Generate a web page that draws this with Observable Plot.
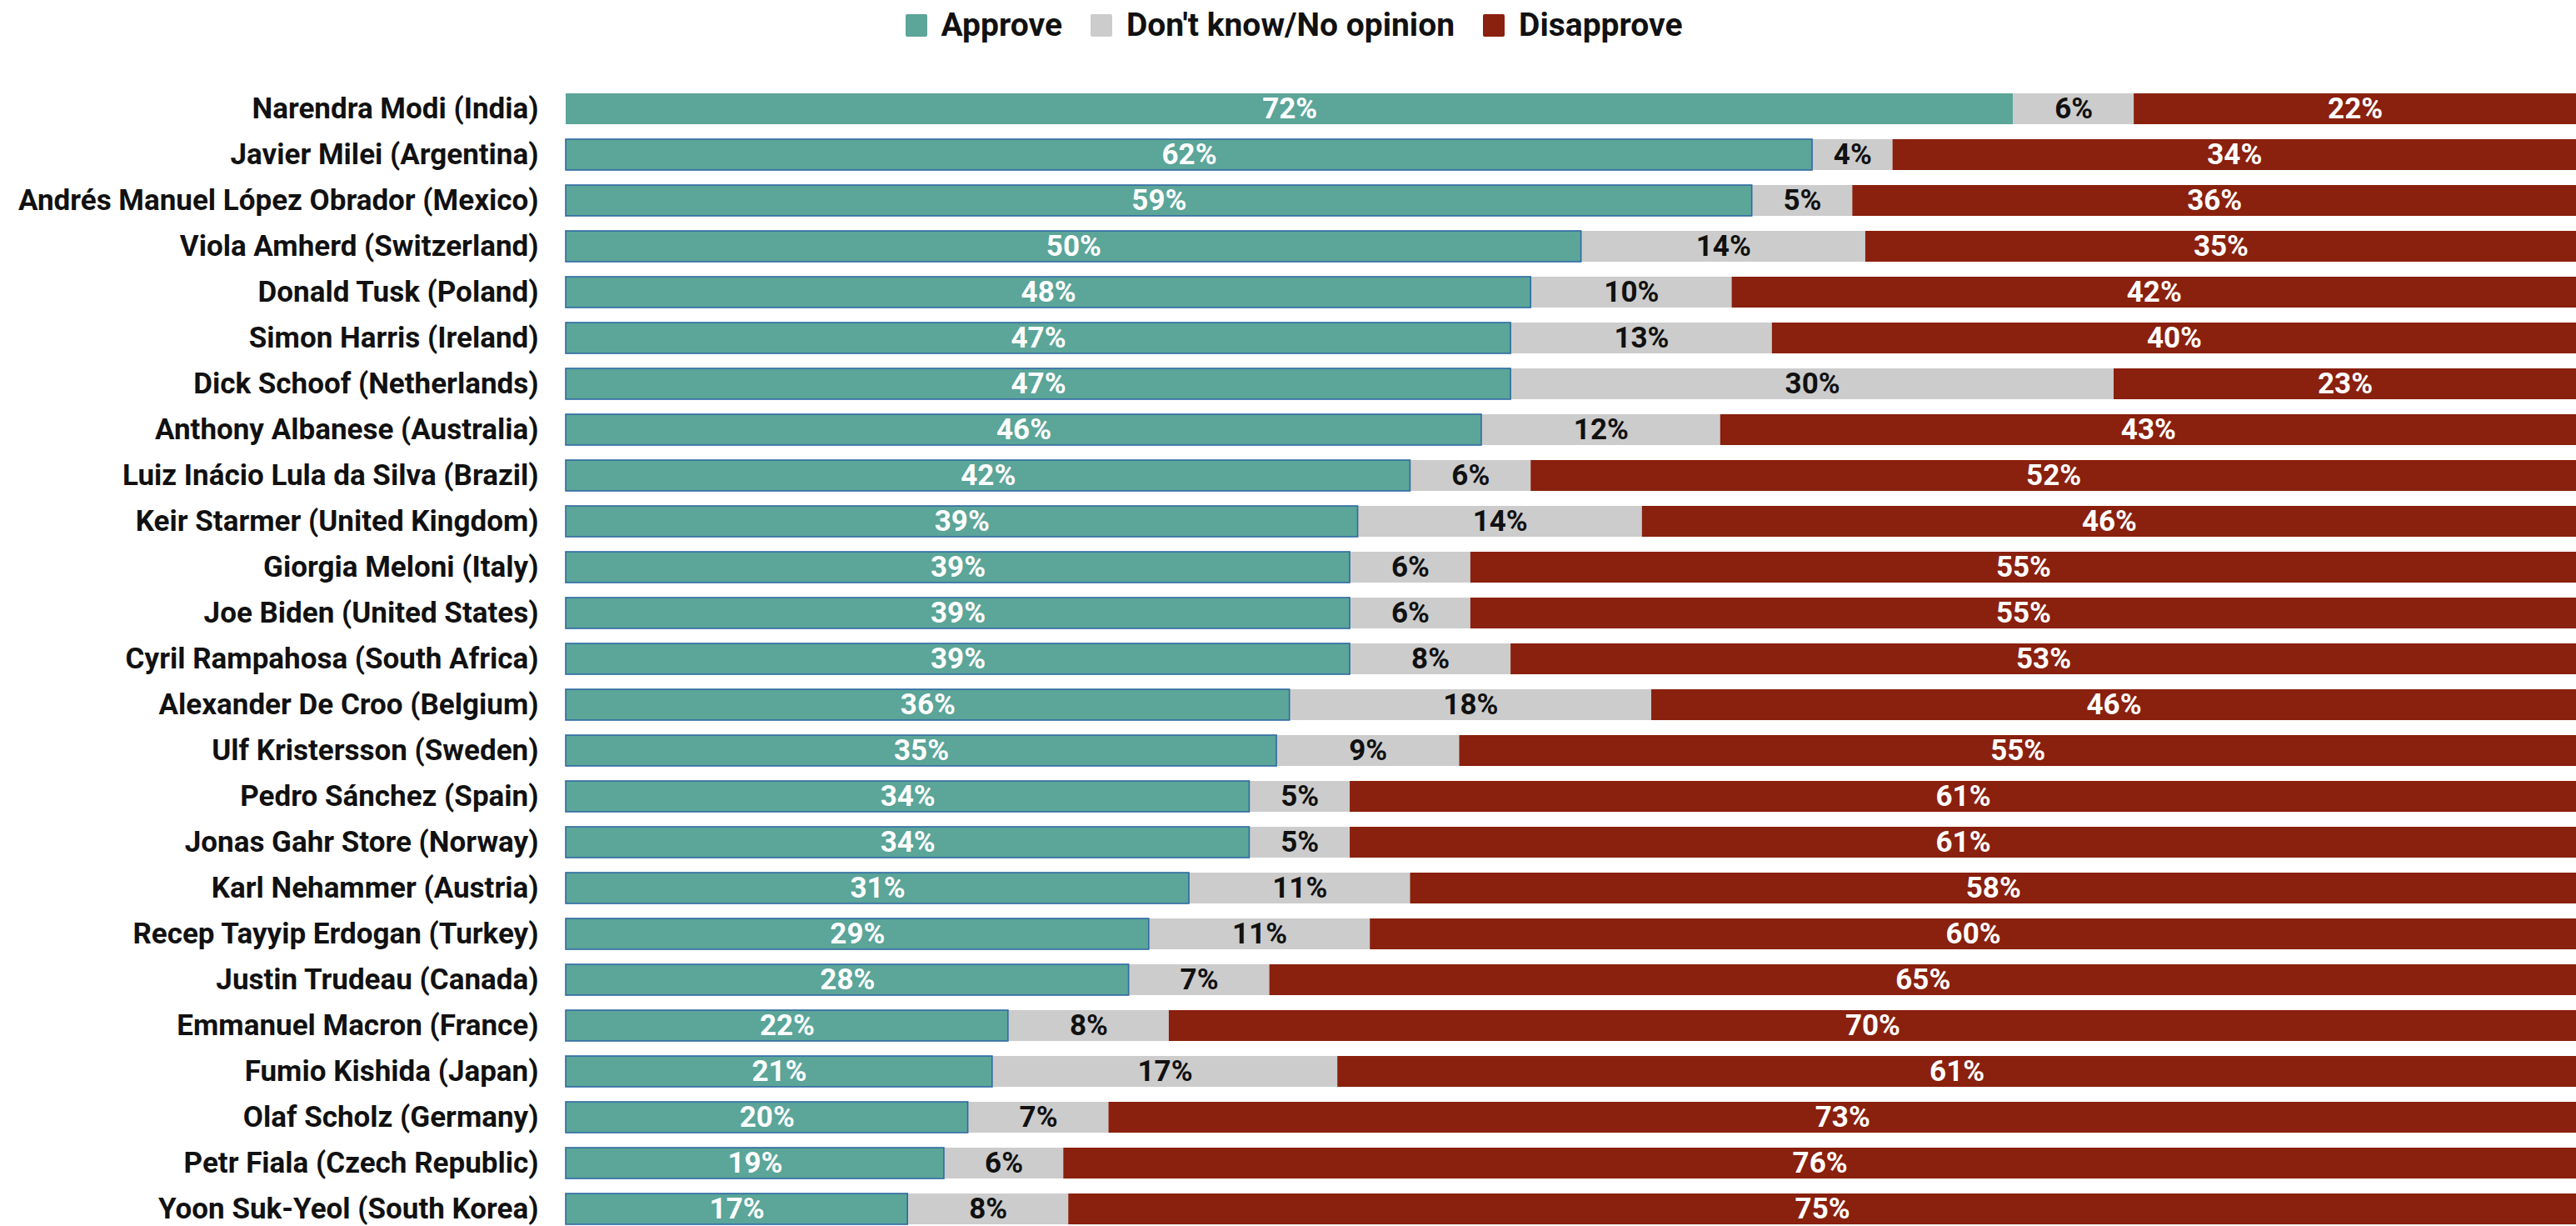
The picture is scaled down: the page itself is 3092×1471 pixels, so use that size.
<!DOCTYPE html>
<html><head><meta charset="utf-8">
<script src="https://cdn.jsdelivr.net/npm/d3@7"></script>
<script src="https://cdn.jsdelivr.net/npm/@observablehq/plot@0.6"></script>
<style>
html,body{margin:0;padding:0;background:#fff;}
body{width:3092px;height:1471px;overflow:hidden;font-family:Roboto,"Noto Sans",sans-serif;}
#legend{height:60px;display:flex;justify-content:center;align-items:center;padding-left:14px;box-sizing:border-box;}
.item{display:flex;align-items:center;font-weight:700;font-size:39px;color:#111;margin:0 17px;}
.sw{width:26px;height:27px;border-radius:2px;margin-right:17px;}
#chart svg{display:block;}
</style></head><body>
<div id="legend"></div>
<div id="chart"></div>
<script>
const leaders = [
  "Narendra Modi (India)",
  "Javier Milei (Argentina)",
  "Andrés Manuel López Obrador (Mexico)",
  "Viola Amherd (Switzerland)",
  "Donald Tusk (Poland)",
  "Simon Harris (Ireland)",
  "Dick Schoof (Netherlands)",
  "Anthony Albanese (Australia)",
  "Luiz Inácio Lula da Silva (Brazil)",
  "Keir Starmer (United Kingdom)",
  "Giorgia Meloni (Italy)",
  "Joe Biden (United States)",
  "Cyril Rampahosa (South Africa)",
  "Alexander De Croo (Belgium)",
  "Ulf Kristersson (Sweden)",
  "Pedro Sánchez (Spain)",
  "Jonas Gahr Store (Norway)",
  "Karl Nehammer (Austria)",
  "Recep Tayyip Erdogan (Turkey)",
  "Justin Trudeau (Canada)",
  "Emmanuel Macron (France)",
  "Fumio Kishida (Japan)",
  "Olaf Scholz (Germany)",
  "Petr Fiala (Czech Republic)",
  "Yoon Suk-Yeol (South Korea)"
];
const approve    = [72,62,59,50,48,47,47,46,42,39,39,39,39,36,35,34,34,31,29,28,22,21,20,19,17];
const dontKnow   = [ 6, 4, 5,14,10,13,30,12, 6,14, 6, 6, 8,18, 9, 5, 5,11,11, 7, 8,17, 7, 6, 8];
const disapprove = [22,34,36,35,42,40,23,43,52,46,55,55,53,46,55,61,61,58,60,65,70,61,73,76,75];
const categories = ["Approve","Don't know/No opinion","Disapprove"];
const colors = ["#5ba599","#cccccc","#8a200e"];

const legend = document.getElementById("legend");
categories.forEach((c,i)=>{
  const it = document.createElement("div"); it.className="item";
  const sw = document.createElement("div"); sw.className="sw"; sw.style.background=colors[i];
  it.appendChild(sw); it.appendChild(document.createTextNode(c));
  legend.appendChild(it);
});

const series = [approve, dontKnow, disapprove];
const data = leaders.flatMap((name,i)=>categories.map((cat,k)=>({name, cat, value: series[k][i]})));

const stack = (extra) => Plot.stackX({x:"value", y:"name", z:"cat", offset:"normalize", ...extra});

const chart = Plot.plot({
  width: 3092,
  height: 1411,
  marginLeft: 679,
  marginRight: 0,
  marginTop: 50,
  marginBottom: 1,
  style: {fontFamily: "Roboto, sans-serif", background: "transparent"},
  x: {domain: [0,1], axis: null},
  y: {domain: leaders, paddingInner: 0.33, paddingOuter: 0, axis: null, label: null},
  color: {domain: categories, range: colors},
  opacity: {domain: [0,1], range: [0,1]},
  marks: [
    Plot.barX(data, stack({fill: "cat"})),
    Plot.barX(data, stack({fill: "none", stroke: "#2f6aa3", strokeWidth: 1.6,
      strokeOpacity: d => (d.cat === categories[0] && d.name !== leaders[0]) ? 1 : 0})),
    Plot.text(data, stack({
      text: d => d.cat === categories[1] ? "" : d.value + "%",
      fill: "white", fontSize: 35, fontWeight: 700})),
    Plot.text(data, stack({
      text: d => d.cat === categories[1] ? d.value + "%" : "",
      fill: "#111", fontSize: 35, fontWeight: 700})),
    Plot.axisY({tickSize: 0, tickPadding: 33, fontSize: 35, fontWeight: 700, color: "#111", label: null})
  ]
});
document.getElementById("chart").appendChild(chart);
</script>
</body></html>
